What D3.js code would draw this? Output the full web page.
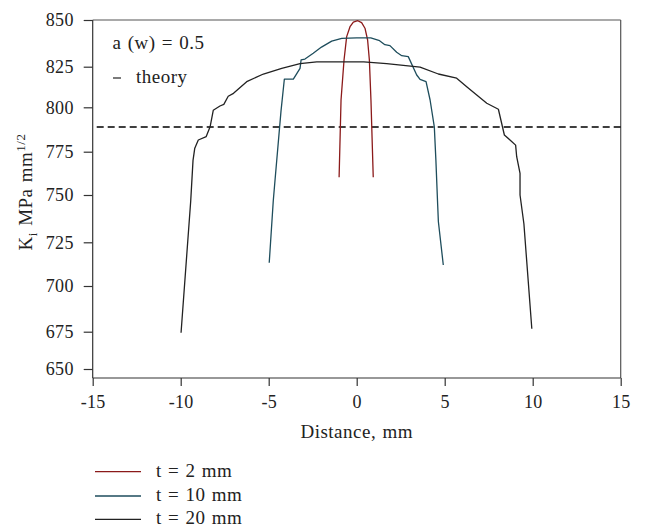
<!DOCTYPE html>
<html>
<head>
<meta charset="utf-8">
<script src="https://cdn.jsdelivr.net/npm/d3@7"></script>
<style>
  html, body { margin: 0; padding: 0; background: #fff; }
  svg { display: block; }
  text { font-family: "Liberation Serif", "DejaVu Serif", serif; fill: #222; }
  .lbl { font-size: 19px; letter-spacing: 0.5px; word-spacing: 1px; }
</style>
</head>
<body>
<svg id="chart" width="646" height="530"></svg>
<script>
// ---------- data ----------
const xTicks = [-15, -10, -5, 0, 5, 10, 15];
const yTicks = [650, 675, 700, 725, 750, 775, 800, 825, 850];
const theoryValue = 788.9;

const seriesNames = ["t = 2 mm", "t = 10 mm", "t = 20 mm"];
const seriesColors = ["#8b1a1a", "#1e4d5c", "#222222"];

// t = 2 mm
const t2x = [-1.0, -0.89, -0.72, -0.57, -0.38, -0.19, 0.06, 0.28, 0.47, 0.62, 0.72, 0.81, 0.94];
const t2y = [760.2, 804.5, 828.6, 841.1, 846.4, 848.9, 849.6, 848.6, 845.6, 839.3, 828.6, 804.5, 760.2];

// t = 10 mm
const t10x = [-4.97, -4.74, -4.64, -4.3, -4.11, -3.6, -3.22, -3.16, -2.94, -2.47, -2.0, -1.42, -0.85, 0.0, 0.8,
              1.3, 1.6, 1.89, 2.27, 2.56, 2.93, 3.41, 3.6, 3.94, 4.17, 4.41, 4.5, 4.6, 4.64, 4.92];
const t10y = [713.3, 747.0, 758.7, 798.0, 817.4, 817.4, 824.0, 828.6, 829.1, 832.2, 835.5, 838.7, 840.2, 840.4, 840.4,
              838.9, 836.8, 836.3, 832.7, 830.9, 830.4, 819.9, 817.2, 815.8, 804.5, 789.0, 770.0, 745.0, 736.0, 712.0];

// t = 20 mm
const t20x = [-9.98, -9.43, -9.3, -9.2, -9.0, -8.55, -8.33, -8.15, -7.77, -7.55, -7.3, -7.0, -6.25, -5.3, -4.26,
              -3.22, -2.27, 0.4, 1.7, 3.6, 4.64, 5.68, 6.25, 6.82, 7.39, 8.05, 8.39, 8.71, 9.03, 9.09, 9.28, 9.28, 9.5, 9.95];
const t20y = [674.3, 747.0, 770.0, 777.0, 781.6, 783.5, 789.0, 798.3, 800.8, 801.8, 806.8, 808.6, 815.8, 820.5, 824.0,
              826.6, 827.6, 827.6, 826.6, 824.7, 820.5, 817.9, 812.7, 807.6, 802.5, 798.9, 784.4, 781.6, 778.7, 772.1, 762.5, 750.0, 734.8, 676.6];

const seriesX = [t2x, t10x, t20x];
const seriesY = [t2y, t10y, t20y];

// ---------- layout ----------
const L = 92.7, R = 620.7, T = 20, B = 378;
// tick pixel positions as printed on the reference's (unevenly spaced) value axis
const yTickPix = [369, 331.7, 286, 242.3, 195, 151.7, 107.3, 66.7, 20];

const svg = d3.select("#chart");
const x = d3.scaleLinear().domain([-15, 15]).range([L, R]);
const y = d3.scaleLinear().domain(yTicks).range(yTickPix);

const axisColor = "#333";

// frame lines
const frame = svg.append("g").attr("stroke", axisColor).attr("stroke-width", 1.2).attr("fill", "none");
frame.append("line").attr("x1", L).attr("x2", R).attr("y1", T).attr("y2", T).attr("stroke", "#555");
frame.append("line").attr("x1", R).attr("x2", R).attr("y1", T).attr("y2", B).attr("stroke", "#555");
frame.append("line").attr("x1", L).attr("x2", L).attr("y1", T).attr("y2", B);
frame.append("line").attr("x1", L).attr("x2", R).attr("y1", B).attr("y2", B);

// x axis
const gx = svg.append("g").attr("transform", `translate(0,${B})`)
  .call(d3.axisBottom(x).tickValues(xTicks).tickSize(8).tickPadding(9).tickFormat(d3.format("d")));
gx.select(".domain").remove();
gx.selectAll(".tick line").attr("stroke", axisColor).attr("stroke-width", 1.2);
gx.selectAll(".tick text").style("font-size", "18px").style("letter-spacing", "0.3px").attr("fill", "#222")
  .style("font-family", '"Liberation Serif", serif')
  .text(d => d < 0 ? "-" + Math.abs(d) : d);

// y axis
const gy = svg.append("g").attr("transform", `translate(${L},0)`)
  .call(d3.axisLeft(y).tickValues(yTicks).tickSize(9).tickPadding(10));
gy.select(".domain").remove();
gy.selectAll(".tick line").attr("stroke", axisColor).attr("stroke-width", 1.2);
gy.selectAll(".tick text").style("font-size", "18px").style("letter-spacing", "0.3px").attr("fill", "#222")
  .style("font-family", '"Liberation Serif", serif');

// axis titles
svg.append("text").attr("class", "lbl").attr("x", (L + R) / 2).attr("y", 438).attr("text-anchor", "middle")
  .text("Distance, mm");

const yt = svg.append("text").attr("class", "lbl").attr("transform", "translate(32,192) rotate(-90)")
  .attr("text-anchor", "middle");
yt.append("tspan").text("K");
yt.append("tspan").attr("dy", 5).style("font-size", "13px").text("i");
yt.append("tspan").attr("dy", -5).text(" MPa mm");
yt.append("tspan").attr("dy", -7).style("font-size", "13px").text("1/2");

// theory line
svg.append("line")
  .attr("x1", x(-15)).attr("x2", x(15))
  .attr("y1", y(theoryValue)).attr("y2", y(theoryValue))
  .attr("stroke", "#000").attr("stroke-width", 1.3)
  .attr("stroke-dasharray", "7,4").attr("stroke-dashoffset", 7);

// series
const line = d3.line().x(d => x(d[0])).y(d => y(d[1]));
seriesX.forEach((xs, i) => {
  const pts = xs.map((v, j) => [v, seriesY[i][j]]);
  svg.append("path").datum(pts)
    .attr("d", line).attr("fill", "none")
    .attr("stroke", seriesColors[i]).attr("stroke-width", 1.3)
    .attr("stroke-linejoin", "round");
});

// annotations
svg.append("text").attr("class", "lbl").attr("x", 112.5).attr("y", 49).text("a (w) = 0.5");
svg.append("line").attr("x1", 113).attr("x2", 121).attr("y1", 78).attr("y2", 78)
  .attr("stroke", "#222").attr("stroke-width", 1.2);
svg.append("text").attr("class", "lbl").attr("x", 136).attr("y", 83).text("theory");

// legend
const legY = [471.7, 496, 519.3];
const leg = svg.append("g");
seriesNames.forEach((name, i) => {
  leg.append("line").attr("x1", 95).attr("x2", 141).attr("y1", legY[i]).attr("y2", legY[i])
    .attr("stroke", seriesColors[i]).attr("stroke-width", 1.3);
  leg.append("text").attr("class", "lbl").attr("x", 156).attr("y", legY[i] + 5).text(name);
});
</script>
</body>
</html>
